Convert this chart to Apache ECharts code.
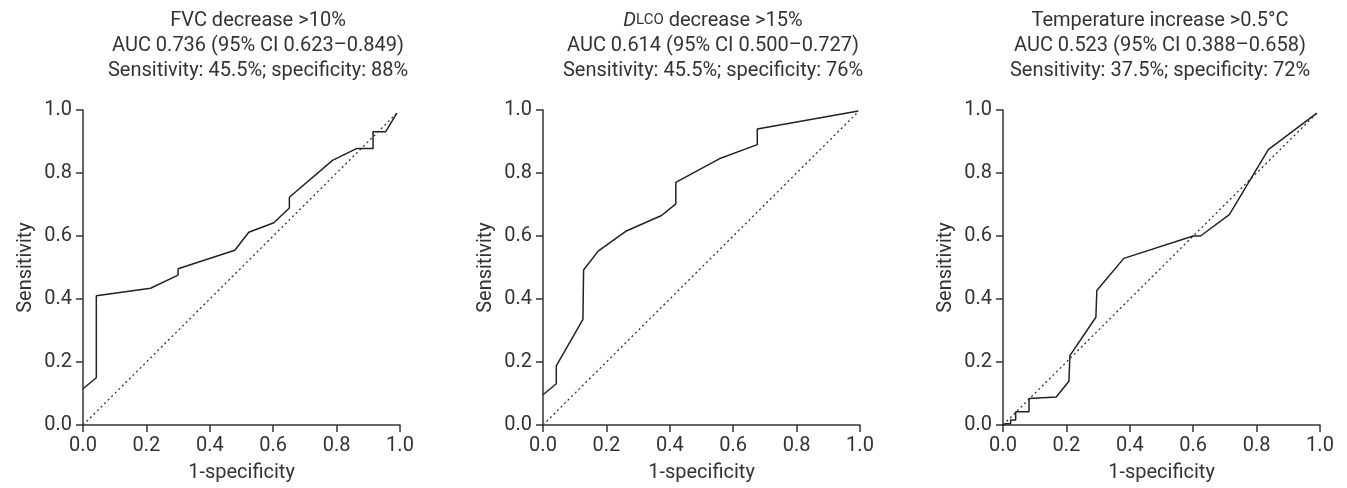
<!DOCTYPE html>
<html>
<head>
<meta charset="utf-8">
<script src="https://cdn.jsdelivr.net/npm/echarts@6/dist/echarts.min.js"></script>
<style>
  html, body { margin: 0; padding: 0; background: #fff; }
  #main { width: 1347px; height: 488px; }
</style>
</head>
<body>
<div id="main"></div>
<script>
// ROC curves (x = 1-specificity, y = sensitivity)
const fvcX = [0, 0.042, 0.042, 0.213, 0.300, 0.300, 0.479, 0.523, 0.602, 0.651, 0.651, 0.787, 0.864, 0.915, 0.915, 0.955, 0.99];
const fvcY = [0.115, 0.150, 0.410, 0.434, 0.476, 0.496, 0.555, 0.612, 0.642, 0.689, 0.723, 0.840, 0.878, 0.878, 0.931, 0.931, 0.99];

const dlcoX = [0, 0.042, 0.042, 0.126, 0.128, 0.174, 0.261, 0.374, 0.419, 0.419, 0.556, 0.676, 0.676, 0.995];
const dlcoY = [0.096, 0.131, 0.188, 0.335, 0.492, 0.552, 0.615, 0.665, 0.702, 0.770, 0.845, 0.890, 0.940, 0.997];

const tempX = [0, 0.008, 0.024, 0.024, 0.040, 0.040, 0.082, 0.082, 0.168, 0.208, 0.211, 0.293, 0.296, 0.381, 0.600, 0.623, 0.714, 0.837, 0.99];
const tempY = [0, 0.004, 0.004, 0.016, 0.016, 0.042, 0.042, 0.084, 0.089, 0.139, 0.220, 0.342, 0.427, 0.529, 0.600, 0.600, 0.668, 0.874, 0.99];

// reference (chance) line
const refX = [0, 0.99];
const refY = [0, 0.99];

const titles = [
  'FVC decrease >10%\nAUC 0.736 (95% CI 0.623\u20130.849)\nSensitivity: 45.5%; specificity: 88%',
  '{i|D}{sc|LCO} decrease >15%\nAUC 0.614 (95% CI 0.500\u20130.727)\nSensitivity: 45.5%; specificity: 76%',
  'Temperature increase >0.5\u00b0C\nAUC 0.523 (95% CI 0.388\u20130.658)\nSensitivity: 37.5%; specificity: 72%'
];
const curvesX = [fvcX, dlcoX, tempX];
const curvesY = [fvcY, dlcoY, tempY];

const FONT = 'Roboto';
const FS = 20;
const TXT = '#333';
const gridLeft = [83, 543, 1003];
const titleCenter = [253, 708, 1155];

const zip = (xs, ys) => xs.map((x, i) => [x, ys[i]]);

const chart = echarts.init(document.getElementById('main'));

const option = {
  animation: false,
  textStyle: { fontFamily: FONT, color: TXT },
  title: titles.map((t, i) => ({
    text: t,
    left: titleCenter[i],
    top: 3,
    textAlign: 'center',
    textStyle: {
      fontFamily: FONT, fontSize: FS, fontWeight: 'normal', color: TXT, lineHeight: 25,
      rich: {
        i: { fontFamily: FONT, fontSize: FS, fontStyle: 'italic', color: TXT, lineHeight: 25 },
        sc: { fontFamily: FONT, fontSize: 15, color: TXT, lineHeight: 25 }
      }
    }
  })),
  grid: gridLeft.map(l => ({ left: l, top: 110, width: 317, height: 318 })),
  xAxis: gridLeft.map((l, i) => ({
    type: 'value', gridIndex: i, min: 0, max: 1, interval: 0.2,
    name: '1-specificity', nameLocation: 'middle', nameGap: 38,
    nameTextStyle: { fontFamily: FONT, fontSize: FS, color: TXT },
    axisLine: { show: true, lineStyle: { color: '#333', width: 1.5 } },
    axisTick: { show: true, length: 7, lineStyle: { color: '#333', width: 1.5 } },
    axisLabel: { fontFamily: FONT, fontSize: FS, color: TXT, margin: 11, formatter: v => v.toFixed(1) },
    splitLine: { show: false }
  })),
  yAxis: gridLeft.map((l, i) => ({
    type: 'value', gridIndex: i, min: 0, max: 1, interval: 0.2,
    name: 'Sensitivity', nameLocation: 'middle', nameGap: 47,
    nameTextStyle: { fontFamily: FONT, fontSize: FS, color: TXT },
    axisLine: { show: true, lineStyle: { color: '#333', width: 1.5 } },
    axisTick: { show: true, length: 7, lineStyle: { color: '#333', width: 1.5 } },
    axisLabel: { fontFamily: FONT, fontSize: FS, color: TXT, margin: 11, formatter: v => v.toFixed(1) },
    splitLine: { show: false }
  })),
  series: []
};

for (let i = 0; i < 3; i++) {
  option.series.push({
    type: 'line', xAxisIndex: i, yAxisIndex: i,
    data: zip(refX, refY), symbol: 'none', silent: true,
    lineStyle: { color: '#333', width: 1.3, type: [2, 3] }
  });
  option.series.push({
    type: 'line', xAxisIndex: i, yAxisIndex: i,
    data: zip(curvesX[i], curvesY[i]), symbol: 'none',
    lineStyle: { color: '#222', width: 1.5 }
  });
}

chart.setOption(option);
</script>
</body>
</html>
